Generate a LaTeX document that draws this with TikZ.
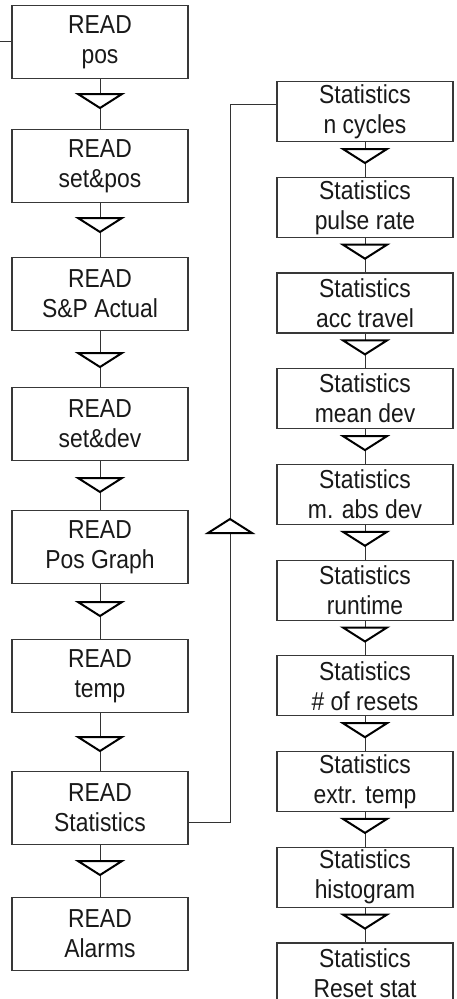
\documentclass[tikz,border=0pt]{standalone}
\usepackage{fontspec}
\setmainfont[FakeStretch=0.88]{Liberation Sans}
\begin{document}
\begin{tikzpicture}[x=1pt,y=-1pt,
  lbox/.style={draw=black!78,line width=1.2pt,fill=white,minimum width=176pt,minimum height=73pt,anchor=north,align=center,inner sep=0pt,text=black!90,font=\fontsize{26}{30}\selectfont},
  rbox/.style={lbox,minimum height=60pt},
  conn/.style={draw=black!80,line width=1pt},
  tri/.style={draw=black,fill=white,line width=2pt,line join=miter}]
\useasboundingbox (0,0) rectangle (457,999);
\clip (0,0) rectangle (457,999);
% left column
\node[lbox] (l1) at (100,5)   {READ\\pos};
\node[lbox] (l2) at (100,129) {READ\\set\&pos};
\node[lbox] (l3) at (100,257) {READ\\S\&P Actual};
\node[lbox] (l4) at (100,387) {READ\\set\&dev};
\node[lbox] (l5) at (100,510) {READ\\Pos Graph};
\node[lbox] (l6) at (100,639) {READ\\temp};
\node[lbox] (l7) at (100,771) {READ\\Statistics};
\node[lbox] (l8) at (100,897) {READ\\Alarms};
% right column
\foreach \n/\t [count=\k from 0] in {r1/n cycles,r2/pulse rate,r3/acc travel,r4/mean dev,r5/m. abs dev,r6/runtime,r7/\# of resets,r8/extr. temp,r9/histogram,r10/Reset stat}{
  \node[rbox] (\n) at (365,81+95.7*\k) {Statistics\\\t};
}
% entry line
\coordinate (start) at (0,41);
\draw[conn] (start) -- (l1.west |- start);
% left connectors
\foreach \a/\b in {l1/l2,l2/l3,l3/l4,l4/l5,l5/l6,l6/l7,l7/l8}{
  \draw[conn] (\a.south) -- (\b.north);
}
\foreach \ty in {94,218,353,478,602,737,861}{
  \filldraw[tri] (100-22,\ty) -- (100+22,\ty) -- (100,\ty+14) -- cycle;
}
% right connectors
\foreach \a/\b in {r1/r2,r2/r3,r3/r4,r4/r5,r5/r6,r6/r7,r7/r8,r8/r9,r9/r10}{
  \draw[conn] (\a.south) -- (\b.north);
}
\foreach \k in {0,...,8}{
  \filldraw[tri] (365-22,81+95.7*\k+68) -- (365+22,81+95.7*\k+68) -- (365,81+95.7*\k+82) -- cycle;
}
% statistics link
\coordinate (c1) at (230,822);
\coordinate (c2) at (230,104);
\draw[conn] (l7.east |- c1) -- (c1) -- (c2) -- (r1.west |- c2);
\filldraw[tri] (230-22,533) -- (230+22,533) -- (230,519) -- cycle;
\end{tikzpicture}
\end{document}
